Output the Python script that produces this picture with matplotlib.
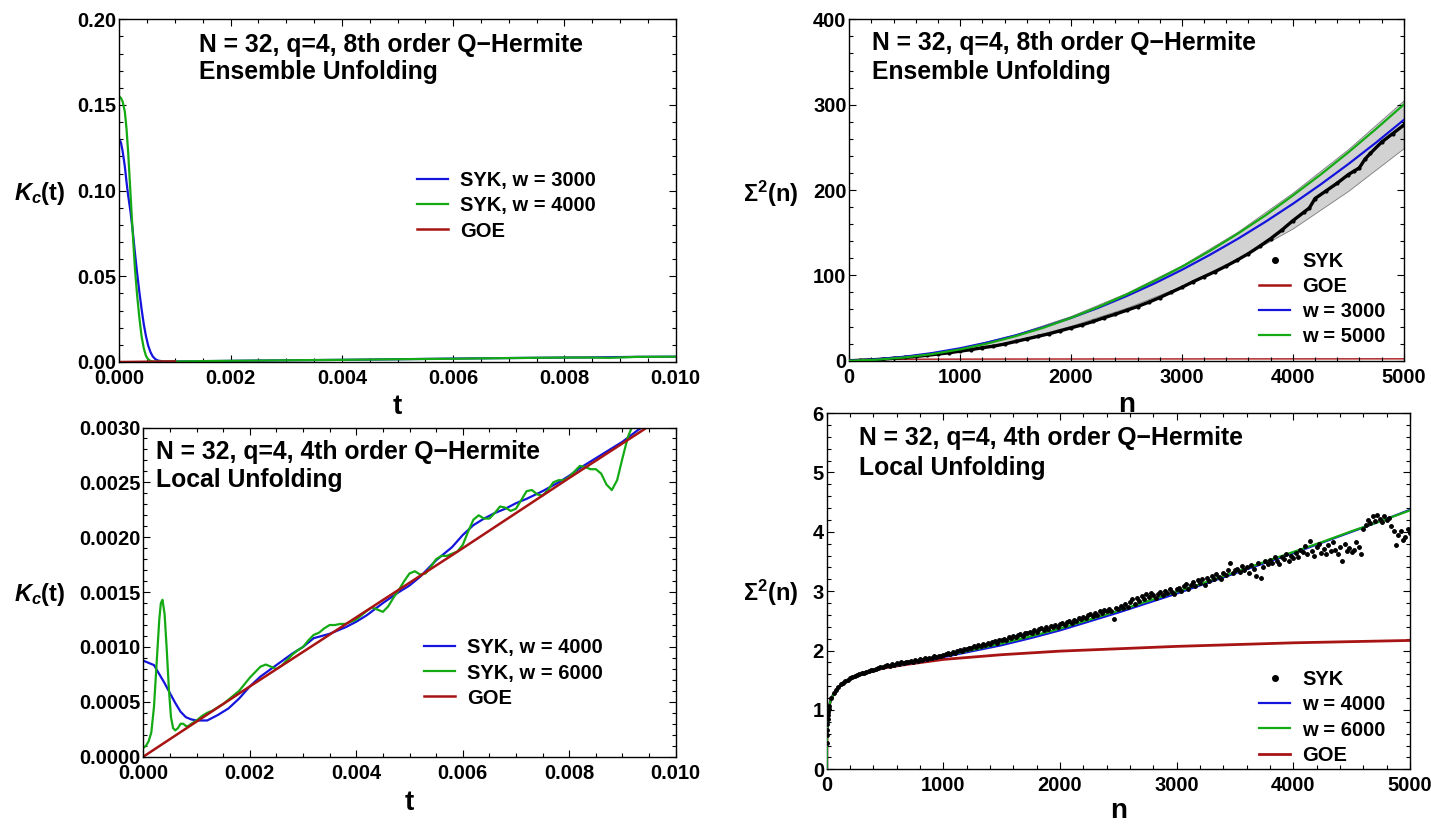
import numpy as np
import matplotlib
matplotlib.use("Agg")
import matplotlib.pyplot as plt
from matplotlib.ticker import MultipleLocator, FormatStrFormatter
from matplotlib.lines import Line2D

plt.rcParams["font.family"] = ["Liberation Sans", "DejaVu Sans"]
plt.rcParams["font.weight"] = "bold"
plt.rcParams["mathtext.fontset"] = "custom"
plt.rcParams["mathtext.rm"] = "Liberation Sans:bold"
plt.rcParams["mathtext.it"] = "Liberation Sans:italic:bold"
plt.rcParams["mathtext.bf"] = "Liberation Sans:bold"
plt.rcParams["axes.linewidth"] = 1.0

BLUE = "#1414dc"
GREEN = "#14aa14"
RED = "#a81414"

# ---------------- panel (a): K_c(t), ensemble unfolding ----------------
a_blue_t = [0, 0.00003, 0.00006, 0.0001, 0.00013, 0.00016, 0.0002, 0.00024, 0.00028,
            0.00032, 0.00036, 0.0004, 0.00044, 0.00048, 0.00052, 0.00056, 0.0006,
            0.00065, 0.0007, 0.0008, 0.001, 0.0012, 0.002, 0.003, 0.004, 0.005,
            0.006, 0.007, 0.008, 0.0085, 0.0088, 0.0093, 0.01]
a_blue_k = [0.130, 0.128, 0.123, 0.114, 0.105, 0.097, 0.088, 0.077, 0.064,
            0.052, 0.041, 0.031, 0.022, 0.015, 0.0095, 0.0058, 0.0033,
            0.0016, 0.0008, 0.0003, 0.0003, 0.0004, 0.00065, 0.001, 0.00125, 0.0016,
            0.002, 0.0023, 0.0026, 0.0027, 0.0028, 0.003, 0.0031]
a_green_t = [0, 0.00003, 0.00006, 0.0001, 0.00013, 0.00016, 0.0002, 0.00024, 0.00028,
             0.00032, 0.00036, 0.0004, 0.00044, 0.00048, 0.00052, 0.00056, 0.0006,
             0.0008, 0.001, 0.0012, 0.002, 0.003, 0.004, 0.005, 0.006, 0.007,
             0.008, 0.0085, 0.0088, 0.0093, 0.01]
a_green_k = [0.155, 0.154, 0.152, 0.146, 0.136, 0.122, 0.099, 0.076, 0.055,
             0.039, 0.026, 0.015, 0.008, 0.0035, 0.0015, 0.0006, 0.0003,
             0.0002, 0.0003, 0.0004, 0.0007, 0.001, 0.00125, 0.0016, 0.0019, 0.0023,
             0.0026, 0.0026, 0.0024, 0.003, 0.0031]
a_goe_t = [0, 0.0005, 0.001]
a_goe_k = [0, 0.00016, 0.00032]

# ---------------- panel (b): Sigma^2(n), ensemble unfolding ----------------
b_fit_n = [0, 250, 500, 750, 1000, 1250, 1500, 1750, 2000, 2250, 2500, 2750, 3000,
           3250, 3500, 3750, 4000, 4250, 4500, 4750, 5000]
b_w3000 = [0, 1.7, 4.7, 9.0, 14.6, 21.5, 29.7, 39.3, 50.1, 62.2, 75.7, 90.4, 106.5,
           123.9, 142.5, 162.5, 183.8, 206.4, 230.3, 255.5, 282.0]
b_w5000 = [0, 1.2, 3.8, 7.8, 13.3, 20.3, 28.8, 38.6, 50.2, 63.2, 77.5, 93.3, 110.0,
           128.5, 148.5, 170.0, 193.5, 218.0, 244.0, 271.5, 300.0]
b_band_n = [0, 500, 1000, 1500, 2000, 2500, 3000, 3500, 4000, 4500, 5000]
b_band_hi = [0, 4.5, 15.0, 31.0, 52.5, 79.5, 112.0, 151.0, 197.0, 248.0, 305.0]
b_band_lo = [0, 3.5, 11.0, 23.5, 41.0, 62.0, 87.5, 119.0, 155.0, 199.0, 249.0]
b_syk_n = [0, 100, 200, 300, 400, 500, 600, 700, 800, 900, 1000, 1100, 1200, 1300,
           1400, 1500, 1600, 1700, 1800, 1900, 2000, 2100, 2200, 2300, 2400, 2500,
           2600, 2700, 2800, 2900, 3000, 3100, 3200, 3300, 3400, 3500, 3600, 3700,
           3800, 3900, 4000, 4100, 4150, 4200, 4300, 4400, 4500, 4550, 4600, 4650,
           4700, 4800, 4900, 5000]
b_syk = [0, 0.4, 1.0, 1.8, 2.8, 3.8, 5.0, 6.3, 7.8, 9.3, 11.2, 13.0, 15.2, 17.0,
         19.5, 22.5, 25.5, 28.5, 31.5, 35.0, 38.5, 42.0, 46.0, 50.5, 54.5, 59.0,
         63.5, 68.5, 74.0, 80.0, 86.0, 92.5, 98.5, 104.5, 111.0, 118.0, 125.5, 134.0,
         143.0, 153.0, 164.0, 174.0, 179.0, 190.0, 199.0, 208.0, 218.0, 222.0, 226.0, 236.0,
         243.0, 256.0, 266.0, 276.0]

# ---------------- GOE number variance (shared by (b) and (d)) ----------------
goe_n = [0, 1, 2, 3, 5, 7, 10, 15, 20, 30, 40, 55, 70, 85, 100, 150, 200, 300, 400,
         500, 700, 1000, 1500, 2000, 2500, 3000, 3500, 4000, 4500, 5000]
goe_s2 = [0, 0.44, 0.58, 0.66, 0.77, 0.84, 0.91, 0.99, 1.05, 1.13, 1.19, 1.25, 1.30,
          1.34, 1.38, 1.46, 1.52, 1.60, 1.66, 1.71, 1.77, 1.85, 1.93, 1.99, 2.03,
          2.07, 2.10, 2.13, 2.15, 2.17]

# ---------------- panel (c): K_c(t), local unfolding ----------------
c_blue_t = [0, 0.0002, 0.0004, 0.0005, 0.0006, 0.0007, 0.0008, 0.0009, 0.001, 0.0012,
            0.0014, 0.0016, 0.0018, 0.002, 0.0022, 0.0024, 0.0026, 0.0028, 0.003,
            0.0032, 0.0035, 0.0038, 0.004, 0.0042, 0.0045, 0.0048, 0.005, 0.0052,
            0.0055, 0.0058, 0.006, 0.0062, 0.0064, 0.0066, 0.0068, 0.007, 0.0072,
            0.0075, 0.0078, 0.008, 0.0082, 0.0085, 0.0088, 0.009, 0.0093, 0.0095]
c_blue_k = [0.000875, 0.000835, 0.00067, 0.00058, 0.00049, 0.00041, 0.00036, 0.00034,
            0.00033, 0.00033, 0.00038, 0.00044, 0.00053, 0.00064, 0.00073, 0.0008,
            0.00087, 0.00094, 0.001, 0.00108, 0.00112, 0.00118, 0.00123, 0.00129,
            0.0014, 0.0015, 0.00156, 0.00164, 0.00179, 0.00191, 0.00202, 0.00211,
            0.00217, 0.00222, 0.00226, 0.00231, 0.00235, 0.00242, 0.0025, 0.00256,
            0.00263, 0.00272, 0.00281, 0.00287, 0.00298, 0.00304]
c_green_t = [0, 0.00005, 0.0001, 0.00015, 0.0002, 0.00025, 0.0003, 0.00033, 0.00036,
             0.0004, 0.00044, 0.00048, 0.00052, 0.00056, 0.0006, 0.00065, 0.0007,
             0.00075, 0.0008, 0.00085, 0.0009, 0.001, 0.0011, 0.0012, 0.0013, 0.0014,
             0.0015, 0.0016, 0.0017, 0.0018, 0.0019, 0.002, 0.0021, 0.0022, 0.0023,
             0.0024, 0.0025, 0.0026, 0.0027, 0.0028, 0.0029, 0.003, 0.0031, 0.0032,
             0.0033, 0.0034, 0.0035, 0.0036, 0.0037, 0.0038, 0.0039, 0.004, 0.0041,
             0.0042, 0.0043, 0.0044, 0.0045, 0.0046, 0.0047, 0.0048, 0.0049, 0.005,
             0.0051, 0.0052, 0.0053, 0.0054, 0.0055, 0.0056, 0.0057, 0.0058, 0.0059,
             0.006, 0.0061, 0.0062, 0.0063, 0.0064, 0.0065, 0.0066, 0.0067, 0.0068,
             0.0069, 0.007, 0.0071, 0.0072, 0.0073, 0.0074, 0.0075, 0.0076, 0.0077,
             0.0078, 0.0079, 0.008, 0.0081, 0.0082, 0.0083, 0.0084, 0.0085, 0.0086,
             0.0087, 0.0088, 0.0089, 0.009, 0.0091, 0.0092]
c_green_k = [0.00008, 0.0001, 0.00014, 0.00022, 0.00045, 0.00085, 0.00125, 0.0014,
             0.00143, 0.0013, 0.00098, 0.00062, 0.00036, 0.00026, 0.00024, 0.00026,
             0.0003, 0.0003, 0.00028, 0.00028, 0.0003, 0.00033, 0.00037, 0.0004,
             0.00042, 0.00045, 0.00048, 0.00052, 0.00056, 0.0006, 0.00066, 0.00072,
             0.00077, 0.00082, 0.00084, 0.00082, 0.0008, 0.00083, 0.00088, 0.00093,
             0.00097, 0.001, 0.00106, 0.00111, 0.00113, 0.00117, 0.0012, 0.0012,
             0.00121, 0.00121, 0.00123, 0.00125, 0.00129, 0.00133, 0.00136, 0.00134,
             0.00132, 0.00137, 0.00145, 0.00152, 0.0016, 0.00167, 0.00169, 0.00166,
             0.00167, 0.00173, 0.0018, 0.00183, 0.00183, 0.00185, 0.00187, 0.00193,
             0.00205, 0.00216, 0.0022, 0.00217, 0.00217, 0.00222, 0.00228, 0.00227,
             0.00224, 0.00226, 0.00234, 0.00242, 0.00243, 0.00239, 0.00238, 0.00243,
             0.0025, 0.00252, 0.00252, 0.00255, 0.0026, 0.00265, 0.00264, 0.00262,
             0.00262, 0.00258, 0.00248, 0.00243, 0.00252, 0.00272, 0.00291, 0.00303]
c_goe_t = [0, 0.002, 0.004, 0.006, 0.008, 0.01]
c_goe_k = [0, 0.00064, 0.00127, 0.0019, 0.00254, 0.00317]

# ---------------- panel (d): Sigma^2(n), local unfolding ----------------
d_fit_n = [0, 1, 2, 3, 5, 7, 10, 15, 20, 30, 40, 55, 70, 85, 100, 150, 200, 300, 400,
           500, 700, 1000, 1250, 1500, 1750, 2000, 2250, 2500, 2750, 3000, 3250, 3500,
           3750, 4000, 4250, 4500, 4750, 5000]
d_w4000 = [0, 0.44, 0.58, 0.66, 0.77, 0.84, 0.91, 0.99, 1.05, 1.13, 1.19, 1.25, 1.30,
           1.34, 1.38, 1.46, 1.52, 1.60, 1.66, 1.72, 1.78, 1.89, 1.99, 2.09, 2.21,
           2.34, 2.49, 2.64, 2.80, 2.96, 3.13, 3.30, 3.47, 3.64, 3.82, 4.00, 4.18, 4.37]
d_w6000 = [0, 0.44, 0.58, 0.66, 0.77, 0.84, 0.91, 0.99, 1.05, 1.13, 1.19, 1.25, 1.30,
           1.34, 1.38, 1.46, 1.52, 1.60, 1.66, 1.72, 1.79, 1.91, 2.01, 2.12, 2.24,
           2.37, 2.52, 2.67, 2.83, 2.99, 3.15, 3.32, 3.49, 3.66, 3.83, 4.01, 4.18, 4.36]
d_syk_n_small = [1, 2, 3, 5, 7, 10, 13, 16]
d_syk_small = [0.44, 0.58, 0.66, 0.77, 0.84, 0.91, 0.97, 1.01]
d_syk = [
    1.06, 1.20, 1.28, 1.34, 1.39, 1.43, 1.46, 1.49, 1.51, 1.535, 1.555, 1.57, 1.585,
    1.60, 1.615, 1.63, 1.64, 1.655, 1.665, 1.68, 1.69, 1.70, 1.715, 1.725, 1.74,
    1.75, 1.745, 1.77, 1.76, 1.785, 1.77, 1.80, 1.79, 1.81, 1.80, 1.825, 1.815, 1.84,
    1.83, 1.85, 1.845, 1.87, 1.86, 1.88, 1.875, 1.90, 1.885, 1.915, 1.905, 1.93,
    1.94, 1.96, 1.945, 1.98, 1.965, 1.995, 2.01, 1.99, 2.03, 2.02, 2.05, 2.035, 2.07,
    2.055, 2.09, 2.075, 2.11, 2.09, 2.13, 2.115, 2.14, 2.16, 2.135, 2.175, 2.17,
    2.20, 2.17, 2.22, 2.21, 2.25, 2.22, 2.26, 2.28, 2.25, 2.30, 2.29, 2.32, 2.30,
    2.34, 2.31, 2.36, 2.38, 2.35, 2.39, 2.37, 2.41, 2.39, 2.43, 2.40, 2.44,
    2.46, 2.43, 2.48, 2.50, 2.46, 2.52, 2.49, 2.55, 2.53, 2.57, 2.54, 2.59, 2.62,
    2.58, 2.63, 2.60, 2.66, 2.64, 2.69, 2.66, 2.70, 2.67, 2.53, 2.72, 2.70,
    2.75, 2.71, 2.78, 2.74, 2.82, 2.86, 2.79, 2.88, 2.84, 2.92, 2.87, 2.95, 2.90,
    2.97, 2.93, 2.88, 2.96, 2.99, 2.93, 3.01, 2.97, 3.04, 2.99, 2.95, 3.03,
    3.05, 3.00, 3.08, 3.12, 3.04, 3.10, 3.15, 3.09, 3.18, 3.13, 3.20, 3.11, 3.22,
    3.17, 3.26, 3.20, 3.29, 3.24, 3.21, 3.31, 3.27, 3.35, 3.48, 3.30, 3.36,
    3.38, 3.32, 3.42, 3.35, 3.40, 3.30, 3.44, 3.38, 3.25, 3.47, 3.22, 3.41, 3.50,
    3.45, 3.53, 3.48, 3.57, 3.51, 3.46, 3.58, 3.54, 3.62, 3.50, 3.60, 3.56,
    3.64, 3.58, 3.70, 3.66, 3.76, 3.62, 3.85, 3.68, 3.60, 3.74, 3.80, 3.65, 3.71,
    3.63, 3.78, 3.67, 3.82, 3.70, 3.62, 3.74, 3.50, 3.79, 3.68, 3.73, 3.66,
    3.70, 3.82, 3.75, 3.63, 4.05, 4.12, 4.20, 4.15, 4.26, 4.18, 4.29, 4.22, 4.16,
    4.27, 4.19, 4.24, 4.10, 4.02, 3.77, 3.95, 4.01, 3.86, 3.92, 4.05, 3.98,
]
d_syk_n = np.arange(20, 5001, 20)

title_a = ["N = 32, q=4, 8th order Q\u2212Hermite", "Ensemble Unfolding"]
title_b = ["N = 32, q=4, 8th order Q\u2212Hermite", "Ensemble Unfolding"]
title_c = ["N = 32, q=4, 4th order Q\u2212Hermite", "Local Unfolding"]
title_d = ["N = 32, q=4, 4th order Q\u2212Hermite", "Local Unfolding"]

# ---------------- figure layout ----------------
W, H = 1431, 825
fig = plt.figure(figsize=(W / 100, H / 100), dpi=100)


def rect(l, t, r, b):
    return [l / W, 1 - b / H, (r - l) / W, (b - t) / H]


TICK_FS = 14.5
LEG_FS = 14.5
NOTE_FS = 17.8
XLAB_FS = 20
YLAB_FS = 17


def style(ax, xlim, ylim, xmaj, xmin, ymaj, ymin, xfmt, yfmt):
    ax.set_xlim(*xlim)
    ax.set_ylim(*ylim)
    ax.xaxis.set_major_locator(MultipleLocator(xmaj))
    ax.xaxis.set_minor_locator(MultipleLocator(xmin))
    ax.yaxis.set_major_locator(MultipleLocator(ymaj))
    ax.yaxis.set_minor_locator(MultipleLocator(ymin))
    ax.xaxis.set_major_formatter(FormatStrFormatter(xfmt))
    ax.yaxis.set_major_formatter(FormatStrFormatter(yfmt))
    ax.tick_params(which="both", direction="in", top=True, right=True, width=0.8,
                   colors="black", labelsize=TICK_FS)
    ax.tick_params(which="major", length=5)
    ax.tick_params(which="minor", length=2.6)
    ax.tick_params(axis="x", which="major", pad=5)
    ax.tick_params(axis="y", which="major", pad=2)
    for lab in ax.get_xticklabels() + ax.get_yticklabels():
        lab.set_fontweight("bold")
    for s in ax.spines.values():
        s.set_color("black")
        s.set_linewidth(1.0)


def note(lines, x, y1, y2):
    fig.text(x / W, 1 - y1 / H, lines[0], fontsize=NOTE_FS, fontweight="bold",
             ha="left", va="center")
    fig.text(x / W, 1 - y2 / H, lines[1], fontsize=NOTE_FS, fontweight="bold",
             ha="left", va="center")


def labels(ax, xl, yl, xy_x, xy_y):
    ax.set_xlabel(xl, fontsize=XLAB_FS, fontweight="bold", va="center")
    ax.xaxis.set_label_coords(0.5, xy_x)
    ax.set_ylabel(yl, fontsize=YLAB_FS, fontweight="bold", rotation=0,
                  ha="center", va="center")
    ax.yaxis.set_label_coords(xy_y[0], xy_y[1])


def legend(ax, handles, names, x, ymid):
    ax.legend(handles, names, loc="center left", bbox_to_anchor=(x / W, 1 - ymid / H),
              bbox_transform=fig.transFigure, frameon=False,
              handlelength=1.55, handletextpad=0.6, labelspacing=0.3,
              borderpad=0, borderaxespad=0, prop={"weight": "bold", "size": LEG_FS})


# (a) top left
axA = fig.add_axes(rect(119.3, 19.3, 675.7, 362.0))
lA1, = axA.plot(a_blue_t, a_blue_k, color=BLUE, lw=1.6)
lA2, = axA.plot(a_green_t, a_green_k, color=GREEN, lw=1.6)
lA3, = axA.plot(a_goe_t, a_goe_k, color=RED, lw=1.8)
style(axA, (0, 0.01), (0, 0.2), 0.002, 0.0005, 0.05, 0.01, "%.3f", "%.2f")
labels(axA, "t", r"$K_c$(t)", -0.131, (-0.1425, 0.493))
legend(axA, [lA1, lA2, lA3], ["SYK, w = 3000", "SYK, w = 4000", "GOE"], 417, 206)
note(title_a, 198.6, 45, 72)

# (b) top right
axB = fig.add_axes(rect(849.3, 19.3, 1403.7, 360.7))
axB.fill_between(b_band_n, b_band_lo, b_band_hi, facecolor="#d2d2d2",
                 edgecolor="#7a7a7a", lw=0.6, zorder=1)
lB2, = axB.plot(goe_n, goe_s2, color=RED, lw=1.0, zorder=0.8)
lB1, = axB.plot(b_syk_n, b_syk, color="black", lw=2.4, marker="o", ms=2.0, zorder=3)
lB3, = axB.plot(b_fit_n, b_w3000, color=BLUE, lw=1.6, zorder=4)
lB4, = axB.plot(b_fit_n, b_w5000, color=GREEN, lw=1.6, zorder=5)
style(axB, (0, 5000), (0, 400), 1000, 200, 100, 20, "%d", "%d")
labels(axB, "n", r"$\Sigma^2$(n)", -0.13, (-0.142, 0.488))
hB1 = Line2D([], [], color="black", marker="o", ms=4, ls="none")
hB2 = Line2D([], [], color=RED, lw=1.8)
legend(axB, [hB1, hB2, lB3, lB4], ["SYK", "GOE", "w = 3000", "w = 5000"], 1259, 299)
note(title_b, 872, 43, 72)

# (c) bottom left
axC = fig.add_axes(rect(143.3, 427.5, 675.7, 756.7))
lC1, = axC.plot(c_blue_t, c_blue_k, color=BLUE, lw=1.6)
lC2, = axC.plot(c_green_t, c_green_k, color=GREEN, lw=1.6)
lC3, = axC.plot(c_goe_t, c_goe_k, color=RED, lw=1.8)
style(axC, (0, 0.01), (0, 0.003), 0.002, 0.0005, 0.0005, 0.0001, "%.3f", "%.4f")
labels(axC, "t", r"$K_c$(t)", -0.141, (-0.194, 0.494))
legend(axC, [lC1, lC2, lC3], ["SYK, w = 4000", "SYK, w = 6000", "GOE"], 424, 673)
note(title_c, 156, 452, 480)

# (d) bottom right
axD = fig.add_axes(rect(826.7, 413.0, 1410.0, 769.3))
lD3, = axD.plot(goe_n, goe_s2, color=RED, lw=2.0, zorder=2)
lD1, = axD.plot(d_fit_n, d_w4000, color=BLUE, lw=1.6, zorder=3)
lD2, = axD.plot(d_fit_n, d_w6000, color=GREEN, lw=1.6, zorder=4)
axD.plot(d_syk_n_small, d_syk_small, ls="none", marker="o", ms=2.5, color="black",
         zorder=5)
axD.plot(d_syk_n, d_syk, ls="none", marker="o", ms=2.5, color="black", zorder=5)
style(axD, (0, 5000), (0, 6), 1000, 200, 1, 0.2, "%d", "%d")
labels(axD, "n", r"$\Sigma^2$(n)", -0.118, (-0.0955, 0.495))
hD0 = Line2D([], [], color="black", marker="o", ms=4, ls="none")
legend(axD, [hD0, lD1, lD2, lD3], ["SYK", "w = 4000", "w = 6000", "GOE"], 1259, 717.5)
note(title_d, 859, 438, 468)

fig.savefig("out.png", dpi=100)
